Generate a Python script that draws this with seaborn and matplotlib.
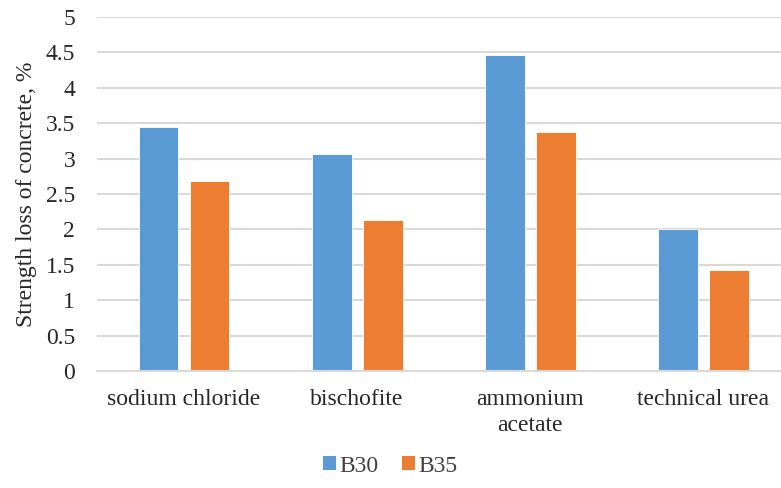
import matplotlib
matplotlib.use("Agg")
import matplotlib.pyplot as plt
import pandas as pd
import seaborn as sns
from matplotlib.patches import Patch

categories = ["sodium chloride", "bischofite", "ammonium\nacetate", "technical urea"]
b30 = [3.44, 3.06, 4.46, 2.00]
b35 = [2.68, 2.13, 3.37, 1.42]
series = ["B30", "B35"]
colors = ["#5B9BD5", "#ED7D31"]

df = pd.DataFrame({
    "category": categories * 2,
    "value": b30 + b35,
    "series": [series[0]] * len(categories) + [series[1]] * len(categories),
})

sns.set_style("white")
plt.rcParams["font.family"] = ["Liberation Serif", "DejaVu Serif"]

fig = plt.figure(figsize=(7.81, 4.88), dpi=100)
ax = fig.add_axes([97.4 / 781, 117 / 488, (781 - 97.4) / 781, 354 / 488])

sns.barplot(
    data=df, x="category", y="value", hue="series",
    order=categories, hue_order=series, palette=colors,
    width=0.59, gap=0.22, saturation=1, ax=ax, legend=False,
    edgecolor="white", linewidth=0.6,
)

ax.set_ylim(0, 5)
ax.set_xlim(-0.5, 3.5 - 9 / 173.2)
ax.set_yticks([0, 0.5, 1, 1.5, 2, 2.5, 3, 3.5, 4, 4.5, 5])
ax.set_yticklabels(["0", "0.5", "1", "1.5", "2", "2.5", "3", "3.5", "4", "4.5", "5"])
ax.yaxis.grid(True, color="#D9D9D9", linewidth=1.5)
ax.set_axisbelow(True)
for s in ["top", "right", "left"]:
    ax.spines[s].set_visible(False)
ax.spines["bottom"].set_color("#D9D9D9")
ax.spines["bottom"].set_linewidth(1.5)
ax.tick_params(axis="y", length=0, pad=16, labelsize=17, colors="#262626")
ax.tick_params(axis="x", length=0, pad=13, labelsize=17, colors="#262626")
for lbl in ax.get_xticklabels():
    lbl.set_linespacing(1.3)
ax.set_xlabel("")
ax.set_ylabel("Strength loss of concrete, %", fontsize=17, color="#262626", labelpad=6)

handles = [Patch(facecolor=c, edgecolor="none") for c in colors]
fig.legend(handles, series, loc="center", bbox_to_anchor=(390 / 781, 1 - 466 / 488),
           ncol=2, frameon=False, fontsize=17, handlelength=0.55, handleheight=0.55,
           handletextpad=0.15, columnspacing=1.0, labelcolor="#404040")

fig.savefig("out.png", dpi=100)
